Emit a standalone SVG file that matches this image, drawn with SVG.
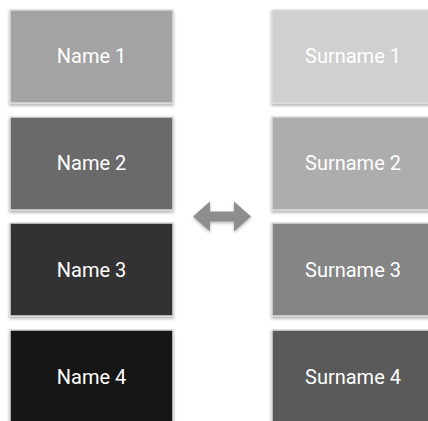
<svg xmlns="http://www.w3.org/2000/svg" width="428" height="421" viewBox="0 0 428 421">
  <defs>
    <filter id="shadow" x="-10%" y="-10%" width="120%" height="125%">
      <feDropShadow dx="0" dy="2" stdDeviation="1.5" flood-color="#000" flood-opacity="0.3"/>
    </filter>
    <filter id="arrowShadow" x="-20%" y="-30%" width="140%" height="160%">
      <feDropShadow dx="0" dy="1.5" stdDeviation="1.5" flood-color="#000" flood-opacity="0.3"/>
    </filter>
  </defs>
  <style>
    .box { stroke: #dcdcdc; stroke-width: 1.5; filter: url(#shadow); }
    .label { font-family: Roboto, "Liberation Sans", sans-serif; font-size: 20px; fill: #ffffff; text-anchor: middle; dominant-baseline: central; }
    .arrow { fill: #8e8e8e; filter: url(#arrowShadow); }
  </style>
  <rect width="428" height="421" fill="#ffffff"/>

  <!-- left column -->
  <g id="name1">
    <rect class="box" x="10" y="10" width="163" height="93" fill="#a3a3a3"/>
    <text class="label" x="91.5" y="56">Name 1</text>
  </g>
  <g id="name2">
    <rect class="box" x="10" y="117" width="163" height="93" fill="#6b6b6b"/>
    <text class="label" x="91.5" y="163">Name 2</text>
  </g>
  <g id="name3">
    <rect class="box" x="10" y="223" width="163" height="93" fill="#333333"/>
    <text class="label" x="91.5" y="270">Name 3</text>
  </g>
  <g id="name4">
    <rect class="box" x="10" y="330" width="163" height="93" fill="#171717"/>
    <text class="label" x="91.5" y="377">Name 4</text>
  </g>

  <!-- right column -->
  <g id="surname1">
    <rect class="box" x="272" y="10" width="163" height="93" fill="#d0d0d0"/>
    <text class="label" x="353" y="56">Surname 1</text>
  </g>
  <g id="surname2">
    <rect class="box" x="272" y="117" width="163" height="93" fill="#adadad"/>
    <text class="label" x="353" y="163">Surname 2</text>
  </g>
  <g id="surname3">
    <rect class="box" x="272" y="223" width="163" height="93" fill="#858585"/>
    <text class="label" x="353" y="270">Surname 3</text>
  </g>
  <g id="surname4">
    <rect class="box" x="272" y="330" width="163" height="93" fill="#5a5a5a"/>
    <text class="label" x="353" y="377">Surname 4</text>
  </g>

  <!-- connectors -->
  <g id="connectors">
    <path class="arrow" d="M193,216.5 L210,201.5 L210,211.5 L234,211.5 L234,201.5 L251,216.5 L234,231.5 L234,221.5 L210,221.5 L210,231.5 Z"/>
  </g>
</svg>
